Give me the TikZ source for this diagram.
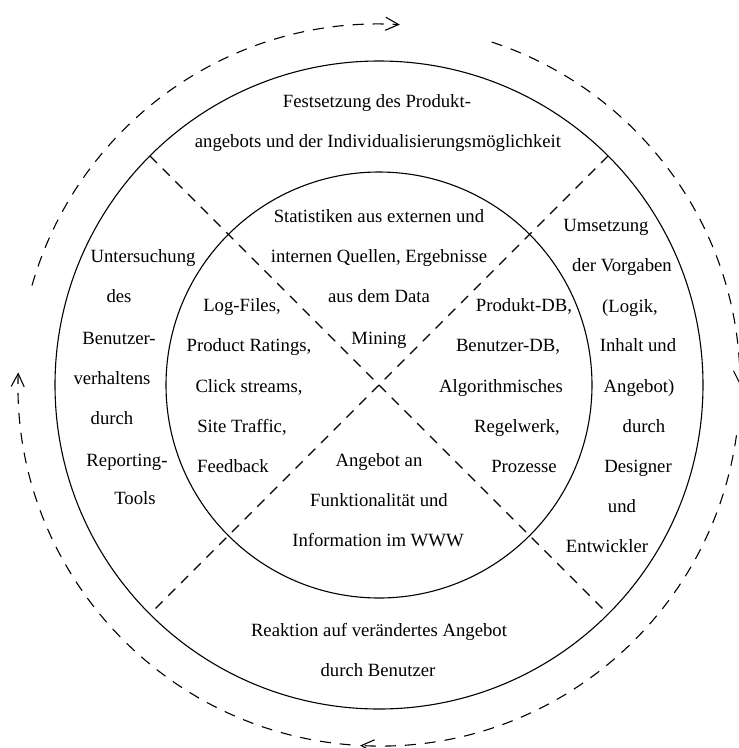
\documentclass[tikz,border=0pt]{standalone}
\usepackage{fontspec}
\setmainfont{Liberation Serif}
\usetikzlibrary{arrows.meta}
\begin{document}
\begin{tikzpicture}[x=1pt, y=-1pt, line width=1.1pt,
	txt/.style={font=\fontsize{18.7}{22}\selectfont, inner sep=0pt, text height=12.5pt, text depth=4pt},
	cut/.style={dash pattern=on 10pt off 8pt},
	cycl/.style={dash pattern=on 11pt off 9pt, -{Straight Barb[length=13pt, width=13pt]}}]
	\useasboundingbox (0,0) rectangle (739,748);
	\coordinate (c) at (379,385);
	\draw (c) circle[radius=324];
	\draw (c) circle[radius=213];
	\coordinate (nw) at ([shift={(225:324)}]c);
	\coordinate (ne) at ([shift={(315:324)}]c);
	\coordinate (se) at ([shift={(45:324)}]c);
	\coordinate (sw) at ([shift={(135:324)}]c);
	\draw[cut] (nw) -- (se);
	\draw[cut] (ne) -- (sw);
	% outer cycle
	\draw[cycl] ([shift={(94.5:361)}]c) arc[start angle=94.5, end angle=182, radius=361];
	\draw[cycl] ([shift={(196:361)}]c) arc[start angle=196, end angle=273.3, radius=361];
	\draw[cycl] ([shift={(288.2:361)}]c) arc[start angle=288.2, end angle=360, radius=361];
	\draw[cycl] ([shift={(8:361)}]c) arc[start angle=8, end angle=93, radius=361];
	% top
	\node[txt] (fest1) at (377,103) {Festsetzung des Produkt-};
	\node[txt] (fest2) at (378,143) {angebots und der Individualisierungsmöglichkeit};
	% center
	\node[txt] (stat1) at (379,218) {Statistiken aus externen und};
	\node[txt] (stat2) at (379,258) {internen Quellen, Ergebnisse};
	\node[txt] (stat3) at (379,298) {aus dem Data};
	\node[txt] (stat4) at (379,340) {Mining};
	\node[txt] (log1) at (242,307) {Log-Files,};
	\node[txt] (log2) at (249,347) {Product Ratings,};
	\node[txt] (log3) at (249,388) {Click streams,};
	\node[txt] (log4) at (242,428) {Site Traffic,};
	\node[txt] (log5) at (233,468) {Feedback};
	\node[txt] (db1) at (524,307) {Produkt-DB,};
	\node[txt] (db2) at (508,347) {Benutzer-DB,};
	\node[txt] (db3) at (501,388) {Algorithmisches};
	\node[txt] (db4) at (517,428) {Regelwerk,};
	\node[txt] (db5) at (524,468) {Prozesse};
	\node[txt] (www1) at (379,462) {Angebot an};
	\node[txt] (www2) at (379,502) {Funktionalität und};
	\node[txt] (www3) at (378,542) {Information im WWW};
	% left
	\node[txt] (unt1) at (143,258) {Untersuchung};
	\node[txt] (unt2) at (119,298) {des};
	\node[txt] (unt3) at (119,340) {Benutzer-};
	\node[txt] (unt4) at (112,380) {verhaltens};
	\node[txt] (unt5) at (112,420) {durch};
	\node[txt] (unt6) at (127,462) {Reporting-};
	\node[txt] (unt7) at (135,500) {Tools};
	% right
	\node[txt] (ums1) at (606,227) {Umsetzung};
	\node[txt] (ums2) at (622,267) {der Vorgaben};
	\node[txt] (ums3) at (630,308) {(Logik,};
	\node[txt] (ums4) at (638,347) {Inhalt und};
	\node[txt] (ums5) at (639,388) {Angebot)};
	\node[txt] (ums6) at (644,428) {durch};
	\node[txt] (ums7) at (638,468) {Designer};
	\node[txt] (ums8) at (622,508) {und};
	\node[txt] (ums9) at (607,548) {Entwickler};
	% bottom
	\node[txt] (reak1) at (379,632) {Reaktion auf verändertes Angebot};
	\node[txt] (reak2) at (378,672) {durch Benutzer};
\end{tikzpicture}
\end{document}
